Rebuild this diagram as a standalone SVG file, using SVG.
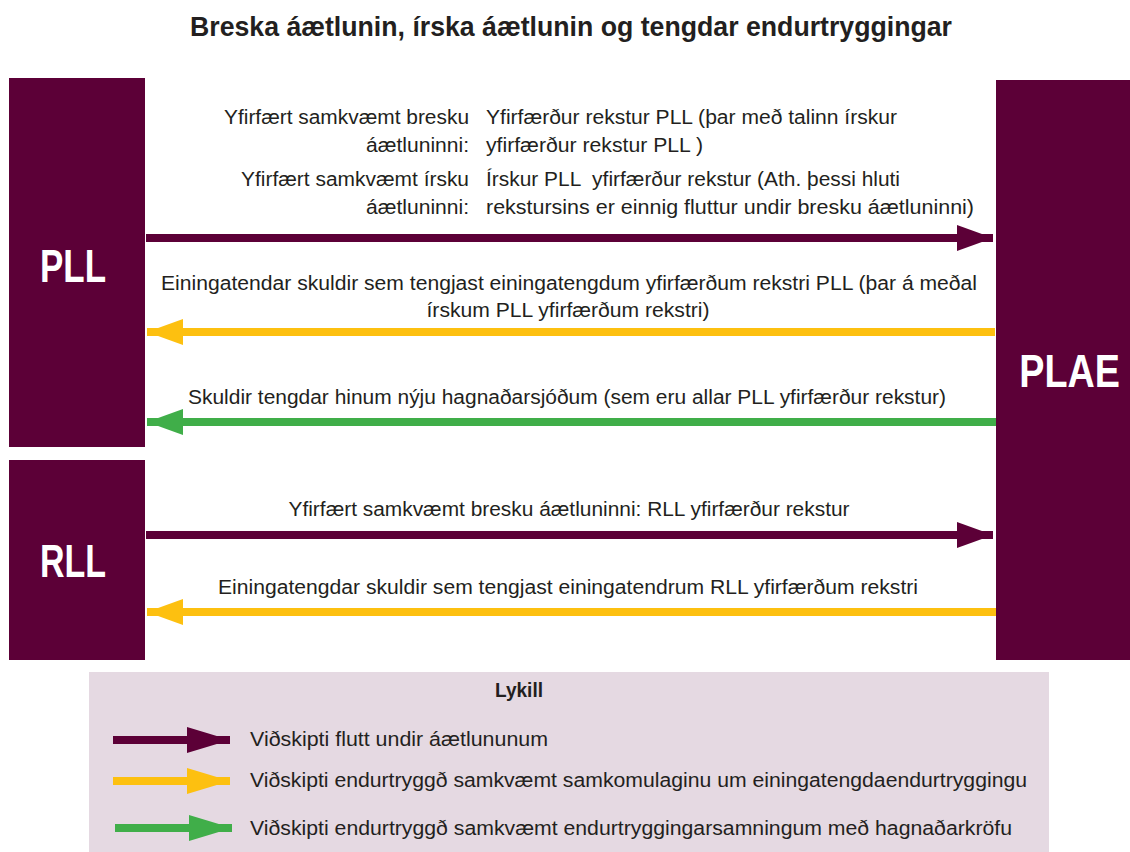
<svg xmlns="http://www.w3.org/2000/svg" width="1130" height="852" viewBox="0 0 1130 852">
<defs>
<style>
.box{fill:#5c0037}
.lbl{font-family:"Liberation Sans",Arial,sans-serif;font-weight:bold;fill:#fff;font-size:46px}
.t{font-family:"Liberation Sans",Arial,sans-serif;font-size:20px;fill:#231f20}
.title{font-family:"Liberation Sans",Arial,sans-serif;font-weight:bold;font-size:27px;fill:#231f20}
.key{font-family:"Liberation Sans",Arial,sans-serif;font-weight:bold;font-size:20px;fill:#231f20}
.ap{stroke:#5c0037;stroke-width:8;fill:none}
.ay{stroke:#fdc010;stroke-width:8;fill:none}
.ag{stroke:#40ae49;stroke-width:8;fill:none}
</style>
<marker id="hp" viewBox="0 0 36 26" refX="36" refY="13" markerWidth="36" markerHeight="26" markerUnits="userSpaceOnUse" orient="auto"><path d="M0,0 L36,13 L0,26 Z" fill="#5c0037"/></marker>
<marker id="hy" viewBox="0 0 36 26" refX="36" refY="13" markerWidth="36" markerHeight="26" markerUnits="userSpaceOnUse" orient="auto"><path d="M0,0 L36,13 L0,26 Z" fill="#fdc010"/></marker>
<marker id="hg" viewBox="0 0 36 26" refX="36" refY="13" markerWidth="36" markerHeight="26" markerUnits="userSpaceOnUse" orient="auto"><path d="M0,0 L36,13 L0,26 Z" fill="#40ae49"/></marker>
<marker id="lp" viewBox="0 0 43 26" refX="43" refY="13" markerWidth="43" markerHeight="26" markerUnits="userSpaceOnUse" orient="auto"><path d="M0,0 L43,13 L0,26 Z" fill="#5c0037"/></marker>
<marker id="ly" viewBox="0 0 43 26" refX="43" refY="13" markerWidth="43" markerHeight="26" markerUnits="userSpaceOnUse" orient="auto"><path d="M0,0 L43,13 L0,26 Z" fill="#fdc010"/></marker>
<marker id="lg" viewBox="0 0 43 26" refX="43" refY="13" markerWidth="43" markerHeight="26" markerUnits="userSpaceOnUse" orient="auto"><path d="M0,0 L43,13 L0,26 Z" fill="#40ae49"/></marker>
</defs>
<rect width="1130" height="852" fill="#fff"/>
<text class="title" x="571" y="36" text-anchor="middle" textLength="762" lengthAdjust="spacingAndGlyphs">Breska áætlunin, írska áætlunin og tengdar endurtryggingar</text>

<g id="pll"><rect class="box" x="9" y="78" width="136" height="369"/><text class="lbl" x="73" y="282" text-anchor="middle" font-size="48" textLength="66" lengthAdjust="spacingAndGlyphs">PLL</text></g>
<g id="rll"><rect class="box" x="9" y="460" width="136" height="200"/><text class="lbl" x="73" y="577" text-anchor="middle" textLength="66" lengthAdjust="spacingAndGlyphs">RLL</text></g>
<g id="plae"><rect class="box" x="996" y="80" width="134" height="580"/><text class="lbl" transform="translate(1069.5,387) scale(0.82,1)" text-anchor="middle" font-size="45">PLAE</text></g>

<g id="connectors">
<path class="ap" d="M146,238 H993" marker-end="url(#hp)"/>
<path class="ay" d="M995,332 H147" marker-end="url(#hy)"/>
<path class="ag" d="M996,422 H147" marker-end="url(#hg)"/>
<path class="ap" d="M146,535 H993" marker-end="url(#hp)"/>
<path class="ay" d="M996,612 H147" marker-end="url(#hy)"/>
</g>

<g id="labels">
<text class="t" x="469" y="124" text-anchor="end" textLength="245" lengthAdjust="spacingAndGlyphs">Yfirfært samkvæmt bresku</text>
<text class="t" x="469" y="152" text-anchor="end" textLength="103" lengthAdjust="spacingAndGlyphs">áætluninni:</text>
<text class="t" x="469" y="186" text-anchor="end" textLength="228" lengthAdjust="spacingAndGlyphs">Yfirfært samkvæmt írsku</text>
<text class="t" x="469" y="214" text-anchor="end" textLength="103" lengthAdjust="spacingAndGlyphs">áætluninni:</text>
<text class="t" x="486" y="124" textLength="411" lengthAdjust="spacingAndGlyphs">Yfirfærður rekstur PLL (þar með talinn írskur</text>
<text class="t" x="486" y="152" textLength="217" lengthAdjust="spacingAndGlyphs">yfirfærður rekstur PLL )</text>
<text class="t" x="486" y="186" textLength="414" lengthAdjust="spacingAndGlyphs" xml:space="preserve" style="white-space:pre">Írskur PLL  yfirfærður rekstur (Ath. þessi hluti</text>
<text class="t" x="486" y="214" textLength="488" lengthAdjust="spacingAndGlyphs">rekstursins er einnig fluttur undir bresku áætluninni)</text>
<text class="t" x="569" y="290" text-anchor="middle" textLength="816" lengthAdjust="spacingAndGlyphs">Einingatendar skuldir sem tengjast einingatengdum yfirfærðum rekstri PLL (þar á meðal</text>
<text class="t" x="568" y="317" text-anchor="middle" textLength="283" lengthAdjust="spacingAndGlyphs">írskum PLL yfirfærðum rekstri)</text>
<text class="t" x="567" y="404" text-anchor="middle" textLength="758" lengthAdjust="spacingAndGlyphs">Skuldir tengdar hinum nýju hagnaðarsjóðum (sem eru allar PLL yfirfærður rekstur)</text>
<text class="t" x="569" y="516" text-anchor="middle" textLength="561" lengthAdjust="spacingAndGlyphs">Yfirfært samkvæmt bresku áætluninni: RLL yfirfærður rekstur</text>
<text class="t" x="568" y="594" text-anchor="middle" textLength="700" lengthAdjust="spacingAndGlyphs">Einingatengdar skuldir sem tengjast einingatendrum RLL yfirfærðum rekstri</text>
</g>

<g id="legend">
<rect x="89" y="672" width="960" height="180" fill="#e5d9e2"/>
<text class="key" x="519" y="697" text-anchor="middle" textLength="48" lengthAdjust="spacingAndGlyphs">Lykill</text>
<path class="ap" d="M113,740 H230" marker-end="url(#lp)"/>
<path class="ay" d="M113,781 H230" marker-end="url(#ly)"/>
<path class="ag" d="M115,828 H232" marker-end="url(#lg)"/>
<text class="t" x="250" y="746" textLength="298" lengthAdjust="spacingAndGlyphs">Viðskipti flutt undir áætlununum</text>
<text class="t" x="250" y="787" textLength="777" lengthAdjust="spacingAndGlyphs">Viðskipti endurtryggð samkvæmt samkomulaginu um einingatengdaendurtryggingu</text>
<text class="t" x="250" y="835" textLength="762" lengthAdjust="spacingAndGlyphs">Viðskipti endurtryggð samkvæmt endurtryggingarsamningum með hagnaðarkröfu</text>
</g>
</svg>
